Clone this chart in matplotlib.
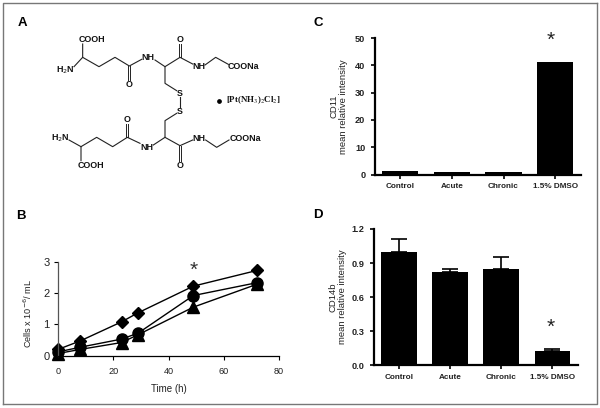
#!/usr/bin/env python3
"""Four panel figure: structure (A), growth curves (B), CD11 and CD14b bars (C, D)."""
import matplotlib
matplotlib.use("Agg")
import matplotlib.pyplot as plt

W, H = 600, 408
plt.rcParams["font.family"] = ["Liberation Sans", "DejaVu Sans"]
TXT = "#222222"

# panel B
hours = [0, 8, 23, 29, 49, 72]
diamond = [0.20, 0.47, 1.08, 1.37, 2.22, 2.72]
circle = [0.12, 0.27, 0.53, 0.72, 1.92, 2.33]
triangle = [0.07, 0.20, 0.42, 0.67, 1.55, 2.28]

# panels C, D
groups = ["Control", "Acute", "Chronic", "1.5% DMSO"]
cd11 = [1.2, 1.0, 1.0, 41.2]
cd14b = [1.0, 0.82, 0.845, 0.13]
cd14b_err = [0.115, 0.025, 0.11, 0.015]

# panel A, in picture pixels x3 (same scale as the drawing was read at)
bonds = [
    [(248, 132), (248, 172), (297, 200), (345, 172), (388, 198), (425, 178)],
    [(222, 200), (248, 172)],
    [(465, 180), (495, 200), (540, 172), (578, 192)],
    [(615, 195), (647, 172), (685, 193)],
    [(495, 200), (495, 250), (530, 272)],
    [(540, 292), (540, 322)],
    [(530, 340), (495, 362), (495, 412), (540, 437), (578, 420)],
    [(617, 420), (650, 442), (687, 420)],
    [(495, 412), (460, 435)],
    [(420, 430), (382, 412), (338, 440), (290, 412), (243, 440), (243, 482)],
    [(243, 440), (207, 420)],
]
double_bonds = [
    [(388, 198), (388, 240)],
    [(540, 172), (540, 132)],
    [(540, 437), (540, 482)],
    [(382, 412), (382, 372)],
]
atoms = [
    ("COOH", 277, 118), ("H$_2$N", 197, 212), ("O", 388, 253), ("NH", 445, 172),
    ("O", 540, 118), ("NH", 597, 200), ("COONa", 730, 200), ("S", 540, 282),
    ("S", 540, 335), ("O", 382, 360), ("H$_2$N", 182, 415), ("NH", 440, 442),
    ("NH", 597, 415), ("COONa", 735, 415), ("O", 540, 495), ("COOH", 272, 495),
]


def axes_px(fig, left, top, right, bottom):
    return fig.add_axes([left / W, 1 - bottom / H, (right - left) / W, (bottom - top) / H])


def style(ax, lw):
    ax.spines[["top", "right"]].set_visible(False)
    ax.spines[["left", "bottom"]].set_linewidth(lw)
    ax.patch.set_alpha(0)


def bar_panel(ax, vals, err, ymax, yticks, fmt, name, star_x, star_y):
    x = range(len(vals))
    ax.bar(x, vals, width=0.7, color="black", yerr=err,
           error_kw=dict(ecolor="black", elinewidth=1.2, capsize=6, capthick=1.2))
    ax.set_xlim(-0.49, 3.5)
    ax.set_ylim(0, ymax)
    ax.set_yticks(yticks)
    ax.set_yticklabels([fmt % t for t in yticks], fontsize=6.6, fontweight="bold", color=TXT)
    ax.set_xticks(list(x))
    ax.set_xticklabels(groups, fontsize=5.9, fontweight="bold", color=TXT)
    ax.tick_params(width=1.2, length=3, pad=4)
    ax.tick_params(axis="x", pad=3)
    ax.set_ylabel(name + "\nmean relative intensity", fontsize=6.8, color=TXT, va="center", linespacing=1.1)
    ax.yaxis.set_label_coords(-0.177, 0.5)
    style(ax, 1.6)
    ax.text(star_x, star_y, "*", fontsize=15, ha="center", va="center", color=TXT)


fig = plt.figure(figsize=(W / 100, H / 100), dpi=100)

# page overlay in pixels: frame, panel letters, structure
page = fig.add_axes([0, 0, 1, 1])
page.set_xlim(0, W)
page.set_ylim(H, 0)
page.axis("off")
page.plot([3, 3, 597], [404, 3, 3], color="#777777", lw=1)
page.plot([3, 597, 597], [404, 404, 3], color="#777777", lw=1)
for letter, lx, ly in [("A", 22, 23), ("B", 21, 216), ("C", 318, 23), ("D", 318, 215)]:
    page.text(lx, ly, letter, fontsize=9.5, fontweight="bold", ha="center", va="center", color="black")
for seg in bonds:
    page.plot([p[0] / 3 for p in seg], [p[1] / 3 for p in seg], color="#222222", lw=0.8)
for seg in double_bonds:
    for off in (-1.8, 1.8):
        page.plot([p[0] / 3 + off / 3 * 1.4 for p in seg], [p[1] / 3 for p in seg], color="#222222", lw=0.7)
for label, ax_, ay_ in atoms:
    page.text(ax_ / 3, ay_ / 3, label, fontsize=6.4, fontweight="bold", ha="center", va="center", color="#111111")
page.plot([219.3], [100.7], "o", ms=2.4, color="black")
page.text(226, 100, "[Pt(NH$_3$)$_2$Cl$_2$]", fontsize=6.4, fontweight="bold", family="Liberation Serif",
          ha="left", va="center", color="#111111", math_fontfamily="stix")

# B
ax = axes_px(fig, 58, 261.7, 279, 355.7)
ax.plot(hours, diamond, "-D", color="black", ms=6.5, lw=1, clip_on=False)
ax.plot(hours, triangle, "-^", color="black", ms=8, lw=1, clip_on=False)
ax.plot(hours, circle, "-o", color="black", ms=8, lw=1, clip_on=False)
ax.set_xlim(0, 80)
ax.set_ylim(0, 3)
ax.set_xticks([0, 20, 40, 60, 80])
ax.set_yticks([0, 1, 2, 3])
ax.tick_params(axis="x", labelsize=6.6, labelcolor=TXT, width=0.8, length=3, pad=5)
ax.tick_params(axis="y", labelsize=8, labelcolor=TXT, width=0.8, length=3, pad=3)
ax.set_xlabel("Time (h)", fontsize=7, color=TXT, labelpad=6)
ax.set_ylabel("Cells x 10$^{-6}$/ mL", fontsize=6.6, color=TXT, va="center")
ax.yaxis.set_label_coords(-0.135, 0.45)
style(ax, 0.9)
ax.spines["left"].set_color("#555555")
ax.text(49, 2.72, "*", fontsize=15, ha="center", va="center", color="#333333")

# C
ax = axes_px(fig, 375, 38, 581, 174.5)
bar_panel(ax, cd11, None, 50, [0, 10, 20, 30, 40, 50], "%d", "CD11", 2.92, 49.3)

# D
ax = axes_px(fig, 374, 229, 578, 365.3)
bar_panel(ax, cd14b, [[0, 0, 0, 0], cd14b_err], 1.2, [0, 0.3, 0.6, 0.9, 1.2], "%.1f", "CD14b", 2.97, 0.33)

fig.savefig("out.png", dpi=100)
